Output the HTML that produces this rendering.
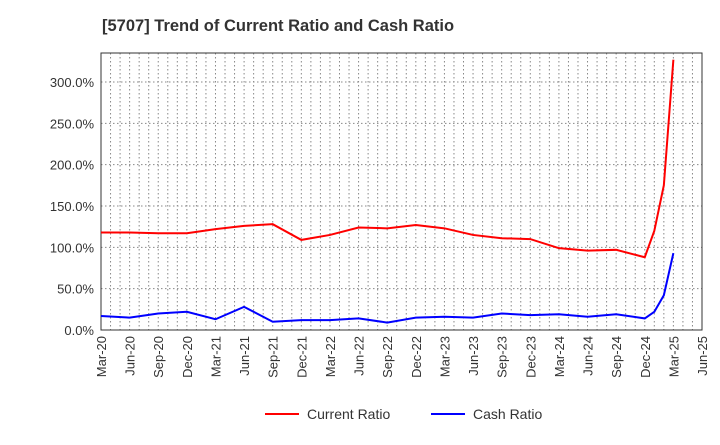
<!DOCTYPE html>
<html><head><meta charset="utf-8"><style>
body{margin:0;background:#fff;font-family:"Liberation Sans",Arial,sans-serif}
svg text{font-family:"Liberation Sans",Arial,sans-serif}
</style></head><body>
<svg id="chart" width="720" height="440">
<text x="102" y="31" font-size="16.5" font-weight="bold" fill="#333">[5707]  Trend of Current Ratio and Cash Ratio</text>
<g id="grid"></g><g id="axes"></g><g id="series"></g>
<g>
<line x1="265" y1="414" x2="299" y2="414" stroke="#f00" stroke-width="2"/>
<text x="307" y="419" font-size="14" fill="#333">Current Ratio</text>
<line x1="431" y1="414" x2="465" y2="414" stroke="#00f" stroke-width="2"/>
<text x="473" y="419" font-size="14" fill="#333">Cash Ratio</text>
</g>
</svg>
<script>
const xLabels=["Mar-20","Jun-20","Sep-20","Dec-20","Mar-21","Jun-21","Sep-21","Dec-21","Mar-22","Jun-22","Sep-22","Dec-22","Mar-23","Jun-23","Sep-23","Dec-23","Mar-24","Jun-24","Sep-24","Dec-24","Mar-25","Jun-25"];
const yTicks=[0,50,100,150,200,250,300];
const monthIdx=[0,3,6,9,12,15,18,21,24,27,30,33,36,39,42,45,48,51,54,57,58,59,60];
const currentRatio=[118,118,117,117,122,126,128,109,115,124,123,127,123,115,111,110,99,96,97,88,120,175,327];
const cashRatio=[17,15,20,22,13,28,10,12,12,14,9,15,16,15,20,18,19,16,19,14,22,42,93];
const L=101,R=702,T=53,B=330;
const xs=m=>L+(R-L)*m/63;
const ys=v=>B-(B-82)*v/300;
const NS="http://www.w3.org/2000/svg";
const g=document.getElementById('grid'),ax=document.getElementById('axes'),se=document.getElementById('series');
function mk(tag,at,p){const e=document.createElementNS(NS,tag);for(const k in at)e.setAttribute(k,at[k]);p.appendChild(e);return e;}
for(let m=1;m<63;m++){const l=mk('line',{x1:xs(m),x2:xs(m),y1:T,y2:B,stroke:'#888','stroke-dasharray':'1.5,2.5'},g);

}
yTicks.forEach(v=>{if(v>0){const l=mk('line',{x1:L,x2:R,y1:ys(v),y2:ys(v),stroke:'#888','stroke-dasharray':'1.5,2.5'},g);

}
const t=mk('text',{x:L-7,y:ys(v)+5,'text-anchor':'end','font-size':13,fill:'#333'},ax);t.textContent=v.toFixed(1)+'%';

});
xLabels.forEach((s,i)=>{const x=xs(i*3);const t=mk('text',{transform:`translate(${x+5},${B+6}) rotate(-90)`,'text-anchor':'end','font-size':13,fill:'#333'},ax);t.textContent=s;

});
const fr=mk('rect',{x:L,y:T,width:R-L,height:B-T,fill:'none',stroke:'#333','stroke-width':1},ax);


function line(vals,c,n){const p=mk('polyline',{points:vals.map((v,i)=>xs(monthIdx[i])+','+ys(v)).join(' '),fill:'none',stroke:c,'stroke-width':2},se);

}
line(currentRatio,'#f00','current-ratio-line');
line(cashRatio,'#00f','cash-ratio-line');
</script>
</body></html>
